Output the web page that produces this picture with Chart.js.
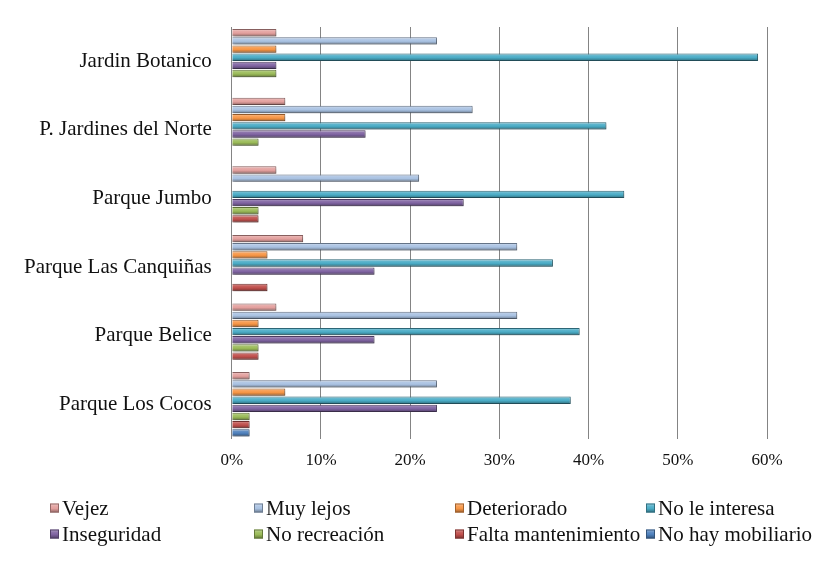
<!DOCTYPE html>
<html>
<head>
<meta charset="utf-8">
<script src="https://cdn.jsdelivr.net/npm/chart.js@4.4.0/dist/chart.umd.min.js"></script>
<style>
  html, body { margin: 0; padding: 0; background: #fff; }
  #wrap { width: 826px; height: 561px; }
</style>
</head>
<body>
<div id="wrap"><canvas id="parques_grafica"></canvas></div>
<script>
const parques = [
  "Jardin Botanico",
  "P. Jardines del Norte",
  "Parque Jumbo",
  "Parque Las Canquiñas",
  "Parque Belice",
  "Parque Los Cocos",
];
const series = [
  "Vejez", "Muy lejos", "Deteriorado", "No le interesa",
  "Inseguridad", "No recreación", "Falta mantenimiento", "No hay mobiliario",
];
// porcentajes por parque (mismo orden que "parques")
const vejez = [5, 6, 5, 8, 5, 2];
const muyLejos = [23, 27, 21, 32, 32, 23];
const deteriorado = [5, 6, 0, 4, 3, 6];
const noLeInteresa = [59, 42, 44, 36, 39, 38];
const inseguridad = [5, 15, 26, 16, 16, 23];
const noRecreacion = [5, 3, 3, 0, 3, 2];
const faltaMantenimiento = [0, 0, 3, 4, 3, 2];
const noHayMobiliario = [0, 0, 0, 0, 0, 2];
const ticksX = [0, 10, 20, 30, 40, 50, 60];

const colores = ["#E3A09E", "#A9C2E2", "#F79646", "#4BACC6", "#8064A2", "#9BBB59", "#C0504D", "#4F81BD"];
const valores = [vejez, muyLejos, deteriorado, noLeInteresa, inseguridad, noRecreacion, faltaMantenimiento, noHayMobiliario];

function mezcla(hex, otro, t) {
  const a = parseInt(hex.slice(1), 16), b = parseInt(otro.slice(1), 16);
  const r = Math.round(((a >> 16) & 255) * (1 - t) + ((b >> 16) & 255) * t);
  const g = Math.round(((a >> 8) & 255) * (1 - t) + ((b >> 8) & 255) * t);
  const bl = Math.round((a & 255) * (1 - t) + (b & 255) * t);
  return "rgb(" + r + "," + g + "," + bl + ")";
}

function degradado(c2d, top, h, base) {
  const g = c2d.createLinearGradient(0, top, 0, top + h);
  g.addColorStop(0, mezcla(base, "#ffffff", 0.45));
  g.addColorStop(0.3, mezcla(base, "#ffffff", 0.1));
  g.addColorStop(0.55, base);
  g.addColorStop(0.8, mezcla(base, "#000000", 0.2));
  g.addColorStop(1, mezcla(base, "#000000", 0.4));
  return g;
}

function relleno(base) {
  return (c) => {
    const el = c.element;
    if (!el || el.y == null || !el.height) return base;
    return degradado(c.chart.ctx, el.y - el.height / 2, el.height, base);
  };
}

const fuente = "'Liberation Serif', 'DejaVu Serif', serif";

const sombra = {
  id: "sombra",
  beforeDatasetsDraw(chart) {
    const c = chart.ctx;
    c.save();
    c.shadowColor = "rgba(0,0,0,0.3)";
    c.shadowOffsetY = 2;
    c.shadowOffsetX = 1;
    c.shadowBlur = 3;
  },
  afterDatasetsDraw(chart) {
    chart.ctx.restore();
  },
};

const leyenda = {
  id: "leyenda",
  afterDraw(chart, args, opts) {
    const c = chart.ctx;
    c.save();
    c.font = opts.size + "px " + fuente;
    c.textBaseline = "middle";
    series.forEach((nombre, i) => {
      const x = opts.cols[i % 4];
      const y = opts.rows[Math.floor(i / 4)];
      const s = 9;
      c.fillStyle = degradado(c, y - s / 2, s, colores[i]);
      c.fillRect(x, y - s / 2, s, s);
      c.strokeStyle = mezcla(colores[i], "#000000", 0.35);
      c.lineWidth = 1;
      c.strokeRect(x + 0.5, y - s / 2 + 0.5, s - 1, s - 1);
      c.fillStyle = "#111";
      c.fillText(nombre, x + s + 3, y + 1);
    });
    c.restore();
  },
};

const ctx = document.getElementById("parques_grafica");
const grafica = new Chart(ctx, {
  type: "bar",
  data: {
    labels: parques,
    datasets: series.map((nombre, i) => ({
      label: nombre,
      data: valores[i],
      backgroundColor: relleno(colores[i]),
      borderColor: mezcla(colores[i], "#000000", 0.4),
      borderWidth: 1,
      borderSkipped: "start",
      categoryPercentage: 0.95,
      barPercentage: 0.9,
    })),
  },
  options: {
    indexAxis: "y",
    responsive: true,
    maintainAspectRatio: false,
    animation: false,
    layout: {
      padding: { left: 4, right: 59, top: 27, bottom: 78 },
    },
    scales: {
      x: {
        min: 0,
        max: 60,
        afterBuildTicks: (axis) => {
          axis.ticks = ticksX.map((v) => ({ value: v }));
        },
        grid: { color: "#848484", lineWidth: 1, drawTicks: false },
        border: { display: false },
        ticks: {
          padding: 12,
          color: "#111",
          font: { family: fuente, size: 17 },
          callback: (v) => v + "%",
        },
      },
      y: {
        afterFit: (axis) => {
          axis.paddingTop = 0;
          axis.paddingBottom = 0;
        },
        grid: { display: false, drawTicks: false },
        border: { display: true, color: "#848484", width: 1 },
        ticks: {
          padding: 20,
          color: "#111",
          font: { family: fuente, size: 21 },
        },
      },
    },
    plugins: {
      legend: { display: false },
      tooltip: { enabled: false },
      leyenda: { cols: [50, 254, 455, 646], rows: [508, 534], size: 21 },
    },
  },
  plugins: [sombra, leyenda],
});
grafica.update("none");
</script>
</body>
</html>
